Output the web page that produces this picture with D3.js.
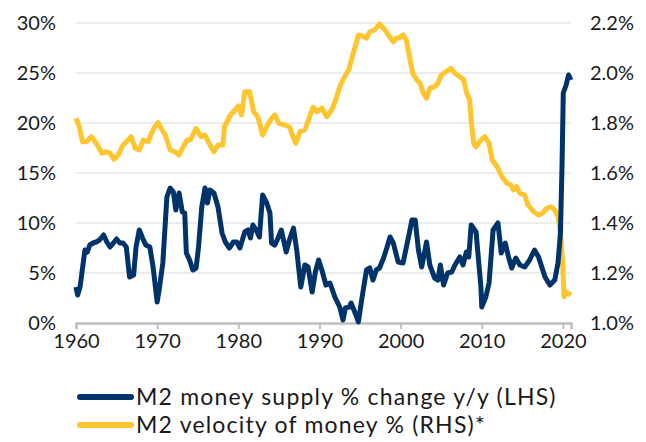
<!DOCTYPE html>
<html>
<head>
<meta charset="utf-8">
<script src="https://cdn.jsdelivr.net/npm/d3@7"></script>
<style>
  body { margin: 0; background: #fff; }
  svg { display: block; }
  text { font-family: Lato, "Open Sans", sans-serif; fill: #1a1a1a; }
</style>
</head>
<body>
<svg width="646" height="442"></svg>
<script>
// M2 money supply % change y/y (LHS)
var m2Years = [1960.0, 1960.2, 1960.5, 1961.1, 1961.4, 1961.7, 1962.1, 1962.5, 1962.9, 1963.4, 1963.8, 1964.2, 1964.6, 1965.0, 1965.4, 1965.8, 1966.2, 1966.6, 1967.1, 1967.4, 1967.8, 1968.2, 1968.6, 1969.1, 1969.5, 1970.0, 1970.3, 1970.7, 1971.2, 1971.6, 1972.0, 1972.3, 1972.7, 1973.1, 1973.4, 1973.6, 1974.0, 1974.4, 1974.8, 1975.1, 1975.5, 1975.9, 1976.2, 1976.5, 1977.0, 1977.5, 1978.0, 1978.4, 1978.9, 1979.4, 1979.8, 1980.2, 1980.8, 1981.2, 1981.5, 1981.8, 1982.2, 1982.6, 1983.0, 1983.5, 1983.9, 1984.1, 1984.5, 1984.9, 1985.3, 1985.9, 1986.3, 1986.8, 1987.2, 1987.7, 1988.2, 1988.6, 1989.1, 1989.5, 1989.9, 1990.3, 1990.8, 1991.3, 1991.9, 1992.5, 1992.9, 1993.2, 1993.7, 1993.9, 1994.4, 1994.8, 1995.2, 1995.8, 1996.2, 1996.6, 1997.0, 1997.4, 1997.9, 1998.3, 1998.7, 1999.1, 1999.7, 2000.3, 2000.9, 2001.4, 2001.8, 2002.2, 2002.6, 2003.2, 2003.6, 2004.2, 2004.6, 2004.9, 2005.3, 2005.8, 2006.3, 2006.7, 2007.3, 2007.7, 2008.1, 2008.4, 2008.7, 2009.3, 2009.9, 2010.0, 2010.5, 2010.9, 2011.4, 2012.0, 2012.4, 2012.9, 2013.3, 2013.7, 2014.2, 2014.7, 2015.3, 2015.9, 2016.5, 2017.0, 2017.8, 2018.4, 2019.0, 2019.4, 2019.7, 2019.9, 2020.05, 2020.4, 2020.7, 2021.0];
var m2Values = [3.6, 2.8, 3.6, 7.3, 7.1, 7.8, 8.0, 8.1, 8.3, 8.8, 8.1, 7.6, 8.0, 8.4, 8.0, 8.0, 7.6, 4.6, 4.8, 7.6, 9.3, 8.5, 7.8, 7.6, 5.6, 2.1, 3.6, 6.0, 12.6, 13.5, 13.1, 11.3, 13.0, 11.1, 11.0, 7.0, 6.3, 5.3, 5.5, 7.6, 11.6, 13.5, 12.0, 13.3, 13.0, 11.6, 9.0, 8.1, 7.5, 8.1, 8.1, 7.5, 9.1, 9.3, 8.5, 9.8, 9.3, 8.6, 12.8, 12.0, 11.0, 8.0, 7.8, 8.5, 9.3, 7.1, 8.3, 9.5, 7.3, 3.6, 5.8, 5.6, 3.1, 5.1, 6.3, 5.3, 3.8, 4.0, 2.6, 1.6, 0.3, 1.5, 1.6, 2.0, 1.0, 0.1, 2.3, 5.3, 5.5, 4.3, 5.3, 5.5, 6.5, 7.5, 8.6, 8.0, 6.1, 6.0, 8.3, 10.3, 10.3, 7.3, 5.6, 8.1, 5.8, 4.5, 4.3, 5.8, 3.8, 5.0, 5.1, 5.8, 6.6, 5.8, 7.1, 6.6, 9.8, 9.1, 3.6, 1.6, 2.6, 4.0, 9.3, 10.0, 7.0, 8.0, 6.6, 5.5, 6.5, 5.8, 5.6, 6.3, 7.3, 6.6, 4.6, 3.8, 4.3, 6.0, 9.0, 16.0, 23.0, 23.8, 24.8, 24.3];

// M2 velocity of money % (RHS)
var velYears = [1960.0, 1960.4, 1960.8, 1961.3, 1961.9, 1962.5, 1963.2, 1963.8, 1964.2, 1964.7, 1965.2, 1965.8, 1966.2, 1966.8, 1967.3, 1967.8, 1968.3, 1968.9, 1969.3, 1969.7, 1970.1, 1970.6, 1971.0, 1971.6, 1972.2, 1972.7, 1973.2, 1973.7, 1974.1, 1974.8, 1975.4, 1975.9, 1976.3, 1977.0, 1977.5, 1978.1, 1978.3, 1979.0, 1979.6, 1980.0, 1980.4, 1980.8, 1981.4, 1981.9, 1982.4, 1983.0, 1983.5, 1984.1, 1984.5, 1985.0, 1985.7, 1986.3, 1986.8, 1987.1, 1987.6, 1988.2, 1988.8, 1989.2, 1989.7, 1990.3, 1990.9, 1991.5, 1992.0, 1992.5, 1993.0, 1993.6, 1994.0, 1994.4, 1994.8, 1995.3, 1995.8, 1996.2, 1996.8, 1997.4, 1997.9, 1998.5, 1999.1, 1999.5, 1999.9, 2000.3, 2000.7, 2001.1, 2001.5, 2002.0, 2002.4, 2002.8, 2003.2, 2003.6, 2004.2, 2004.6, 2005.0, 2005.6, 2006.2, 2006.7, 2007.3, 2007.8, 2008.1, 2008.5, 2008.7, 2009.0, 2009.3, 2009.9, 2010.4, 2010.9, 2011.3, 2011.9, 2012.5, 2013.1, 2013.6, 2013.9, 2014.3, 2014.7, 2015.3, 2015.7, 2016.4, 2017.0, 2017.5, 2018.0, 2018.5, 2019.0, 2019.4, 2019.7, 2019.95, 2020.15, 2020.35, 2020.6, 2021.0];
var velValues = [1.819, 1.785, 1.725, 1.725, 1.745, 1.719, 1.679, 1.685, 1.679, 1.655, 1.672, 1.712, 1.725, 1.745, 1.699, 1.692, 1.732, 1.725, 1.759, 1.785, 1.801, 1.772, 1.752, 1.692, 1.685, 1.672, 1.705, 1.732, 1.732, 1.779, 1.745, 1.752, 1.725, 1.685, 1.712, 1.712, 1.785, 1.830, 1.852, 1.868, 1.832, 1.925, 1.925, 1.845, 1.825, 1.752, 1.785, 1.819, 1.832, 1.799, 1.792, 1.785, 1.739, 1.719, 1.765, 1.772, 1.825, 1.863, 1.845, 1.859, 1.825, 1.852, 1.892, 1.945, 1.979, 2.012, 2.059, 2.105, 2.152, 2.148, 2.139, 2.165, 2.172, 2.196, 2.179, 2.152, 2.125, 2.139, 2.142, 2.152, 2.132, 2.065, 1.999, 1.972, 1.959, 1.919, 1.899, 1.939, 1.945, 1.959, 1.992, 2.005, 2.019, 1.999, 1.985, 1.972, 1.925, 1.892, 1.812, 1.719, 1.705, 1.732, 1.745, 1.719, 1.652, 1.625, 1.585, 1.559, 1.552, 1.532, 1.545, 1.519, 1.512, 1.472, 1.445, 1.432, 1.439, 1.459, 1.465, 1.452, 1.425, 1.359, 1.25, 1.105, 1.125, 1.119, 1.112];

var xTicks = [1960, 1970, 1980, 1990, 2000, 2010, 2020];
var leftTicks = [0, 5, 10, 15, 20, 25, 30];
var rightTicks = [1.0, 1.2, 1.4, 1.6, 1.8, 2.0, 2.2];
var legendLabels = ["M2 money supply % change y/y (LHS)", "M2 velocity of money % (RHS)*"];
var colors = ["#003369", "#ffc52f"];

var svg = d3.select("svg");
var plotLeft = 76, plotRight = 571, plotTop = 23, plotBottom = 323;

var x = d3.scaleLinear().domain([1960, 2021]).range([plotLeft, plotRight]);
var yL = d3.scaleLinear().domain([0, 30]).range([plotBottom, plotTop]);
var yR = d3.scaleLinear().domain([1.0, 2.2]).range([plotBottom, plotTop]);

// gridlines
svg.append("g")
  .selectAll("line")
  .data(leftTicks.slice(1))
  .enter().append("line")
  .attr("x1", plotLeft).attr("x2", plotRight)
  .attr("y1", function(d) { return yL(d); })
  .attr("y2", function(d) { return yL(d); })
  .attr("stroke", "#d9d9d9")
  .attr("stroke-width", 1.2);

// left axis labels
svg.append("g")
  .selectAll("text")
  .data(leftTicks)
  .enter().append("text")
  .attr("x", 56)
  .attr("y", function(d) { return yL(d) + 7; })
  .attr("text-anchor", "end")
  .style("font-size", "20px")
  .text(function(d) { return d + "%"; });

// right axis labels
svg.append("g")
  .selectAll("text")
  .data(rightTicks)
  .enter().append("text")
  .attr("x", 590)
  .attr("y", function(d) { return yR(d) + 7; })
  .attr("text-anchor", "start")
  .style("font-size", "20px")
  .text(function(d) { return d.toFixed(1) + "%"; });

// x axis
var xAxis = svg.append("g")
  .attr("transform", "translate(0," + plotBottom + ")")
  .call(d3.axisBottom(x).tickValues(xTicks).tickFormat(d3.format("d")).tickSize(6).tickPadding(5));
xAxis.select(".domain").attr("stroke", "#bfbfbf").attr("stroke-width", 2.5);
xAxis.selectAll(".tick line").attr("stroke", "#bfbfbf").attr("stroke-width", 2);
xAxis.selectAll(".tick text")
  .style("font-size", "20px")
  .style("font-family", "Lato, 'Open Sans', sans-serif")
  .attr("fill", "#1a1a1a");

// lines
var lineL = d3.line()
  .x(function(d) { return x(d[0]); })
  .y(function(d) { return yL(d[1]); });
var lineR = d3.line()
  .x(function(d) { return x(d[0]); })
  .y(function(d) { return yR(d[1]); });

svg.append("path")
  .datum(d3.zip(velYears, velValues))
  .attr("d", lineR)
  .attr("fill", "none")
  .attr("stroke", colors[1])
  .attr("stroke-width", 5)
  .attr("stroke-linejoin", "round");

svg.append("path")
  .datum(d3.zip(m2Years, m2Values))
  .attr("d", lineL)
  .attr("fill", "none")
  .attr("stroke", colors[0])
  .attr("stroke-width", 5)
  .attr("stroke-linejoin", "round");

// legend
var legend = svg.append("g")
  .selectAll("g")
  .data(legendLabels)
  .enter().append("g")
  .attr("transform", function(d, i) { return "translate(0," + (397 + i * 28) + ")"; });
legend.append("line")
  .attr("x1", 80).attr("x2", 131)
  .attr("stroke", function(d, i) { return colors[i]; })
  .attr("stroke-width", 6)
  .attr("stroke-linecap", "round");
legend.append("text")
  .attr("x", 136)
  .attr("y", 8)
  .style("font-size", "23px")
  .style("letter-spacing", "1.2px")
  .text(function(d) { return d; });
</script>
</body>
</html>
